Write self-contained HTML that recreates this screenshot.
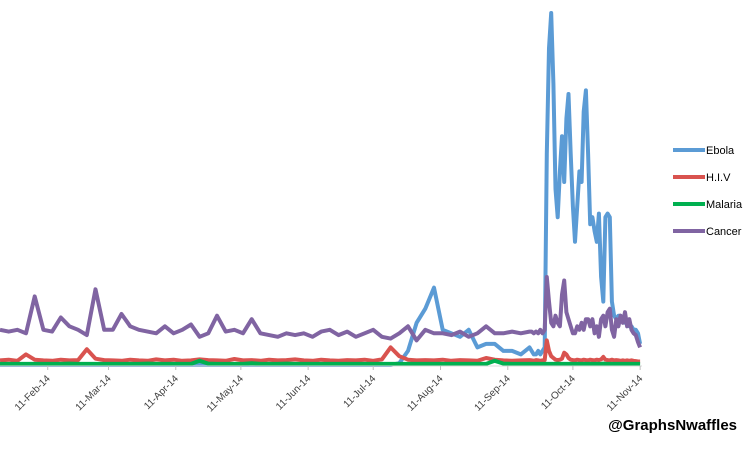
<!DOCTYPE html>
<html><head><meta charset="utf-8"><style>
body{margin:0;background:#fff;}
svg{display:block;font-family:"Liberation Sans",sans-serif;}
</style></head><body>
<svg id="chart" width="750" height="464">
<g id="grid"></g><g id="series"></g><g id="axis"></g><g id="legend"></g>
<text x="737" y="430" text-anchor="end" font-size="15" font-weight="bold" fill="#000">@GraphsNwaffles</text>
</svg>
<script>
const days = [0,4,8,12,16,20,24,28,32,36,40,44,48,52,56,60,64,68,72,76,80,84,88,92,96,100,104,108,112,116,120,124,128,132,136,140,144,148,152,156,160,164,168,172,176,180,184,188,192,196,200,204,208,212,216,220,224,228,232,236,240,244,
245,246,247,248,249,250,251,252,253,254,255,256,257,258,259,260,261,262,263,264,265,266,267,268,269,270,271,272,273,274,275,276,277,278,279,280,281,282,283,284,285,286,287,288,289,290,291,292,293,294,295];
const ebola = [0,0,0,0,0,0,0,0,0,0, 0,0,0,0,0,0,0,0,0,0, 0,0,0,0,0,0,0,0,0,0, 0,0,0,0,0,0,0,0,0,0, 0,0,0,0,0,0,0.5,4,12,16, 22,10,9,8,10,5,6,6,4,4, 3,5,
4,3,3,4,3,4,5,60,90,100, 80,50,42,55,65,52,70,77,60,45, 35,45,55,52,72,78,60,40,42,38, 35,43,25,18,42,43,42,18,14,13, 14,14,13,12,12,11,11,10,10,9, 6];
const hiv = [1.3,1.5,1.2,3,1.5,1.3,1.2,1.5,1.3,1.4, 4.5,1.8,1.4,1.3,1.2,1.5,1.3,1.2,1.6,1.3, 1.5,1.2,1.3,1.6,1.4,1.3,1.2,1.7,1.3,1.4, 1.2,1.5,1.3,1.4,1.6,1.3,1.2,1.5,1.3,1.2, 1.4,1.3,1.5,1.2,1.6,5,2.5,1.5,1.3,1.4, 1.3,1.5,1.2,1.4,1.3,1.2,2,1.5,1.3,1.2, 1.3,1.4,
1.3,1.2,1.4,1.3,1.2,1.3,1.4,7,4,2.5, 2,1.5,1.4,1.5,1.8,3.5,3,2,1.5,1.4, 1.3,1.5,1.4,1.3,1.5,1.4,1.3,1.5,1.4,1.3, 1.5,1.4,1.6,2.3,1.5,1.4,1.3,1.5,1.3,1.4, 1.3,1.2,1.3,1.2,1.3,1.2,1.3,1.2,1.1,1, 1];
const malaria = [0.3,0.3,0.3,0.3,0.3,0.3,0.3,0.3,0.4,0.3, 0.3,0.3,0.3,0.3,0.3,0.3,0.3,0.4,0.3,0.3, 0.3,0.3,0.3,1.2,0.4,0.3,0.3,0.3,0.3,0.5, 0.3,0.3,0.3,0.4,0.3,0.3,0.3,0.3,0.3,0.3, 0.3,0.3,0.3,0.3,0.3,0.3,0.3,0.3,0.3,0.3, 0.3,0.3,0.3,0.3,0.3,0.3,0.3,1.2,0.4,0.3, 0.3,0.3,
0.3,0.3,0.3,0.3,0.3,0.3,0.3,0.3,0.3,0.3, 0.3,0.3,0.4,0.3,0.3,0.3,0.3,0.3,0.3,0.3, 0.3,0.3,0.3,0.3,0.3,0.3,0.3,0.3,0.3,0.3, 0.3,0.3,0.3,0.4,0.3,0.3,0.3,0.3,0.3,0.3, 0.3,0.3,0.3,0.3,0.3,0.3,0.3,0.3,0.3,0.3, 0.3];
const cancer = [10,9.5,10,9,19.5,10,9.5,13.5,11,10, 8.5,21.5,10,10,14.5,11,10,9.5,9,11, 9,10,11.5,8,9,14,9.5,10,9,13, 9,8.5,8,9,8.5,9,8,9.5,10,8.5, 9.5,8,9,10,8,7.5,9,11,7,10, 9,9,8.5,9.5,8,9,11,9,9,9.5, 9,9.5,
9.5,9,9.5,9,10,9,10,25,18,12, 11,14,12,11,20,24,15,13,11,9, 9,11,10,12,10,13,13,11,13,9, 11,8,13,14,11,15,16,10,8,13, 11,14,12,15,11,13,10,9,8.5,6.5, 5];
const tickLabels = ["11-Feb-14","11-Mar-14","11-Apr-14","11-May-14","11-Jun-14","11-Jul-14","11-Aug-14","11-Sep-14","11-Oct-14","11-Nov-14"];
const tickDays = [22,50,81,111,142,172,203,234,264,295];
const seriesNames = ["Ebola","H.I.V","Malaria","Cancer"];

const NS="http://www.w3.org/2000/svg";
const xs = d => d*2.17;
const ys = v => 365 - v*3.52;
const colors = {Ebola:"#5B9BD5","H.I.V":"#D9534F",Malaria:"#00B050",Cancer:"#8064A2"};
const dataMap = {Ebola:ebola,"H.I.V":hiv,Malaria:malaria,Cancer:cancer};
const sg=document.getElementById('series');
["Ebola","H.I.V","Malaria","Cancer"].forEach(n=>{
  const vals=dataMap[n];
  const p=document.createElementNS(NS,'path');
  p.setAttribute('d',days.map((d,i)=>(i?'L':'M')+xs(d).toFixed(1)+','+ys(vals[i]).toFixed(1)).join(''));
  p.setAttribute('fill','none');p.setAttribute('stroke',colors[n]);p.setAttribute('stroke-width','4');
  p.setAttribute('stroke-linejoin','round');
  
  
  sg.appendChild(p);
});
const ag=document.getElementById('axis');
const base=document.createElementNS(NS,'line');
base.setAttribute('x1',0);base.setAttribute('x2',642);base.setAttribute('y1',366);base.setAttribute('y2',366);
base.setAttribute('stroke','#d9d9d9');


ag.appendChild(base);
tickLabels.forEach((t,i)=>{
  const x=xs(tickDays[i]);
  const tk=document.createElementNS(NS,'line');
  tk.setAttribute('x1',x);tk.setAttribute('x2',x);tk.setAttribute('y1',366);tk.setAttribute('y2',370);tk.setAttribute('stroke','#bfbfbf');
  
  
  ag.appendChild(tk);
  const tx=document.createElementNS(NS,'text');
  tx.setAttribute('x',x+3);tx.setAttribute('y',379);tx.setAttribute('font-size','10');tx.setAttribute('fill','#404040');
  tx.setAttribute('text-anchor','end');tx.setAttribute('transform','rotate(-45 '+(x+3)+' 379)');
  tx.textContent=t;
  
  
  ag.appendChild(tx);
});
const lg=document.getElementById('legend');
seriesNames.forEach((n,i)=>{
  const y=150+i*27;
  const g=document.createElementNS(NS,'g');
  
  
  const l=document.createElementNS(NS,'line');
  l.setAttribute('x1',673);l.setAttribute('x2',705);l.setAttribute('y1',y);l.setAttribute('y2',y);
  l.setAttribute('stroke',colors[n]);l.setAttribute('stroke-width','4');
  g.appendChild(l);
  const t=document.createElementNS(NS,'text');
  t.setAttribute('x',706);t.setAttribute('y',y+4);t.setAttribute('font-size','11');t.setAttribute('fill','#000');
  t.textContent=n;
  g.appendChild(t);
  lg.appendChild(g);
});
</script>
</body></html>
